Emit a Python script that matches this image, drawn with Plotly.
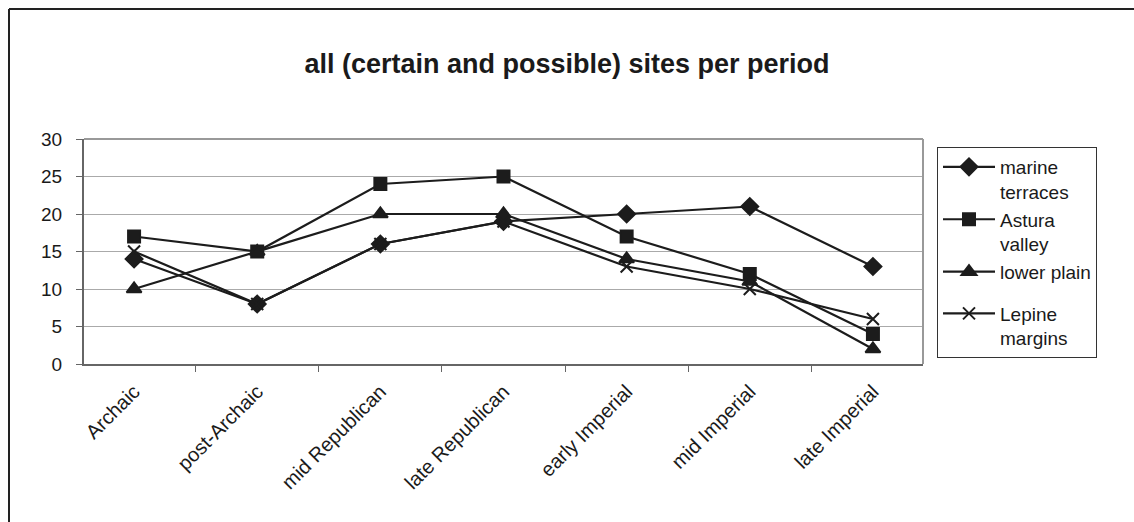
import plotly.graph_objects as go

periods = ["Archaic", "post-Archaic", "mid Republican", "late Republican",
           "early Imperial", "mid Imperial", "late Imperial"]
marine_terraces = [14, 8, 16, 19, 20, 21, 13]
astura_valley = [17, 15, 24, 25, 17, 12, 4]
lower_plain = [10, 15, 20, 20, 14, 11, 2]
lepine_margins = [15, 8, 16, 19, 13, 10, 6]

series_names = ["marine<br>terraces", "Astura<br>valley", "lower plain", "Lepine<br>margins"]
series_values = [marine_terraces, astura_valley, lower_plain, lepine_margins]
legend_groups = ["a", "a", "a", "b"]
symbols = ["diamond", "square", "triangle-up", "x-thin-open"]
sizes = [13, 12, 13, 12]

C = "#1c1c1c"
fig = go.Figure()
for name, vals, grp, sym, sz in zip(series_names, series_values, legend_groups, symbols, sizes):
    fig.add_trace(go.Scatter(
        x=periods, y=vals, name=name, mode="lines+markers", legendgroup=grp,
        line=dict(color=C, width=2.2),
        marker=dict(symbol=sym, size=sz, color=C, line=dict(color=C, width=2)),
    ))

L, R, T, B = 84, 923, 139, 364
W, H = 1134, 522
pw, ph = R - L, B - T

def px(x):
    return (x - L) / pw

def py(y):
    return (B - y) / ph

fig.update_layout(
    width=W, height=H,
    margin=dict(l=L, r=W - R, t=T, b=H - B, pad=0),
    paper_bgcolor="white", plot_bgcolor="white",
    font=dict(family="Liberation Sans, Arial, sans-serif", size=20, color="#1a1a1a"),
    title=dict(text="<b>all (certain and possible) sites per period</b>",
               x=0.5, xanchor="center", y=1 - 64 / H, yanchor="middle",
               font=dict(size=27, color="#1a1a1a")),
    showlegend=True,
    legend=dict(x=px(937), xanchor="left", y=py(147), yanchor="top",
                bordercolor="#333", borderwidth=1, bgcolor="white",
                font=dict(size=19), tracegroupgap=14, itemwidth=52,
                traceorder="grouped", valign="top", maxheight=400),
    xaxis=dict(type="category", tickson="boundaries", ticks="outside", ticklen=6,
               tickcolor="#666", showline=True, linecolor="#666", linewidth=2,
               tickangle=-45, showgrid=False, tickfont=dict(size=20),
               ticklabelstandoff=6),
    yaxis=dict(range=[0, 30], dtick=5, ticks="outside", ticklen=6, tickcolor="#666",
               showline=True, linecolor="#666", linewidth=2, showgrid=True,
               gridcolor="#aaaaaa", gridwidth=1, zeroline=False,
               tickfont=dict(size=19), ticklabelstandoff=10),
    shapes=[
        dict(type="line", xref="paper", yref="paper", x0=0, x1=1, y0=1, y1=1,
             line=dict(color="#999", width=2)),
        dict(type="line", xref="paper", yref="paper", x0=1, x1=1, y0=0, y1=1,
             line=dict(color="#999", width=2)),
        dict(type="line", xref="paper", yref="paper", x0=px(9), x1=px(1134),
             y0=py(9), y1=py(9), line=dict(color="#222", width=2)),
        dict(type="line", xref="paper", yref="paper", x0=px(9), x1=px(9),
             y0=py(9), y1=py(522), line=dict(color="#222", width=2)),
    ],
)

fig.write_html("out.html")
